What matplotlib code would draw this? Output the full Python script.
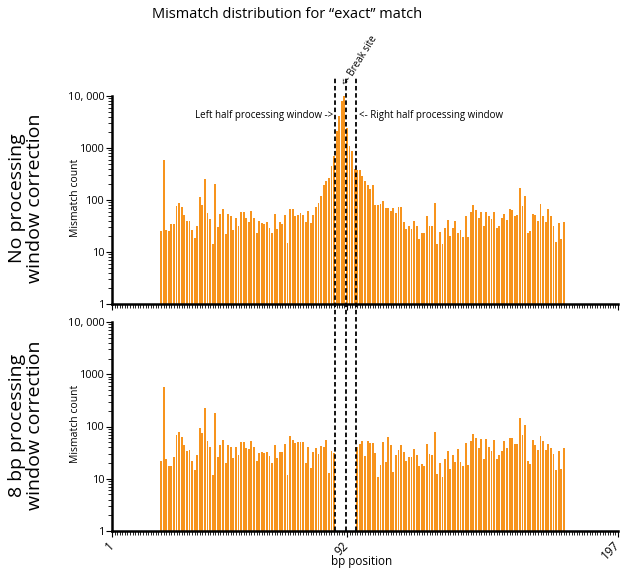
import matplotlib
matplotlib.use('Agg')
import matplotlib.pyplot as plt
from matplotlib.lines import Line2D
from matplotlib.ticker import FixedLocator, MultipleLocator, LogLocator, NullFormatter
import matplotlib.transforms as mtransforms

plt.rcParams['font.family'] = ['Open Sans', 'DejaVu Sans']

# --- data ---
# positions 20..95, no correction
top_left = [25, 575, 27, 25, 34, 34, 78, 88, 73, 51,
            40, 39, 27, 19, 31, 113, 80, 258, 57, 44,
            14, 207, 30, 53, 66, 22, 53, 49, 27, 45,
            32, 58, 58, 46, 38, 61, 45, 23, 39, 36,
            34, 38, 29, 23, 55, 28, 38, 35, 51, 15,
            68, 66, 49, 52, 57, 51, 38, 62, 36, 51,
            72, 86, 122, 198, 228, 265, 445, 710, 2140, 4150,
            8000, 9900, 2400, 1100, 860, 400]
# positions 96..176, no correction
top_right = [372, 372, 294, 237, 198, 166, 192, 80, 80, 82,
             95, 69, 71, 61, 71, 57, 72, 72, 38, 28,
             32, 28, 40, 32, 18, 23, 23, 50, 32, 32,
             88, 14, 24, 14, 29, 42, 20, 29, 39, 23,
             26, 19.5, 50, 19.5, 58, 80, 64, 45, 59, 32,
             59, 49, 44, 58, 29, 32, 45, 55, 42, 68,
             64, 50, 52, 170, 76, 122, 23.5, 25, 55, 52,
             40, 84, 49, 38, 66, 49, 32, 15.6, 36, 17.5,
             38]
# positions 20..87, 8 bp correction
bot_left = [22, 565, 24, 17.7, 17.7, 26, 69, 80, 64, 45,
            34, 35, 22, 14.6, 28, 92, 75, 228, 52, 41,
            11.7, 182, 26, 45, 56, 20, 44, 40, 25.5, 41,
            28, 51, 50, 38, 37, 53, 40, 22, 31, 33,
            30.5, 33, 27.5, 20, 45, 25, 33, 33, 46, 11.7,
            66, 56, 48, 51, 51, 51, 20, 41, 16, 32,
            38, 30, 42, 40, 54, 13, 34, 31]
# positions 96..176, 8 bp correction
bot_right = [40, 46, 53, 27.5, 53, 48, 48, 31, 10.9, 18.5,
             50, 20.5, 63, 45, 13.6, 28, 36, 45, 33, 22,
             26, 26, 37, 28, 17.7, 19, 17.7, 46, 29.5, 28,
             80, 12.6, 19.6, 10.9, 24, 34, 15.3, 28, 21, 37,
             21, 17.7, 48, 18.5, 53, 72, 59, 38, 58, 24,
             58, 41, 34, 55, 24, 29, 34, 53, 38, 59,
             59, 47, 46, 146, 70, 108, 22, 19, 55, 45,
             35, 66, 52, 36, 47, 39, 29.5, 14.6, 34, 15.7,
             38]

left_start = 20
right_start = 96
window_lines = [87.5, 91.5, 95.5]
x_ticks = [1, 92, 197]
y_ticks = [1, 10, 100, 1000, 10000]
y_ticklabels = ['1', '10', '100', '1000', '10, 000']

bar_color = '#F7941D'

fig = plt.figure(figsize=(6.24, 5.72), dpi=100)
W, H = 624, 572
ax_top = fig.add_axes([112 / W, 1 - 304 / H, 506 / W, 208 / H])
ax_bot = fig.add_axes([112 / W, 1 - 531 / H, 506 / W, 209 / H])


def style(ax, show_xlabels):
    ax.set_yscale('log')
    ax.set_xlim(1, 197)
    ax.set_ylim(1, 10000)
    for s in ['top', 'right']:
        ax.spines[s].set_visible(False)
    for s in ['left', 'bottom']:
        ax.spines[s].set_linewidth(1.8)
    ax.yaxis.set_major_locator(FixedLocator(y_ticks))
    ax.set_yticklabels(y_ticklabels)
    ax.yaxis.set_minor_locator(LogLocator(base=10, subs=range(2, 10)))
    ax.yaxis.set_minor_formatter(NullFormatter())
    ax.xaxis.set_major_locator(FixedLocator(x_ticks))
    ax.xaxis.set_minor_locator(MultipleLocator(1))
    ax.tick_params(axis='y', which='major', direction='out', length=4, width=0.8,
                   labelsize=7.8, pad=1)
    ax.tick_params(axis='x', which='major', direction='out', length=4, width=0.8,
                   labelsize=8.5, pad=5)
    ax.tick_params(axis='both', which='minor', direction='out', length=3, width=0.6)
    if show_xlabels:
        ax.set_xticklabels([str(t) for t in x_ticks], rotation=45, ha='right',
                           va='center', rotation_mode='anchor', fontsize=8.5)
    else:
        ax.set_xticklabels([])


def draw(ax, left_vals, right_vals):
    xl = list(range(left_start, left_start + len(left_vals)))
    xr = list(range(right_start, right_start + len(right_vals)))
    ax.bar(xl, left_vals, width=0.72, color=bar_color, linewidth=0)
    ax.bar(xr, right_vals, width=0.72, color=bar_color, linewidth=0)


style(ax_top, False)
style(ax_bot, True)
draw(ax_top, top_left, top_right)
draw(ax_bot, bot_left, bot_right)
ax_top.set_ylim(1, 10000)
ax_bot.set_ylim(1, 10000)

# dashed window lines through both panels
trans = mtransforms.blended_transform_factory(ax_bot.transData, fig.transFigure)
for xv in window_lines:
    fig.add_artist(Line2D([xv, xv], [1 - 531 / H, 1 - 76 / H], transform=trans,
                          color='black', lw=1.3, linestyle=(0, (2.5, 1.5))))

ax_top.text(86.8, 4300, 'Left half processing window ->', ha='right', va='center',
            fontsize=7)
ax_top.text(96.6, 4300, '<- Right half processing window', ha='left', va='center',
            fontsize=7)
fig.text(350 / W, 1 - 88 / H, '<- Break site', rotation=58, ha='left', va='bottom',
         rotation_mode='anchor', fontsize=7)

fig.text(287 / W, 1 - 14 / H, 'Mismatch distribution for \u201cexact\u201d match',
         ha='center', va='center', fontsize=10.5)

fig.text(26 / W, 1 - 198 / H, 'No processing\nwindow correction', rotation=90,
         ha='center', va='center', multialignment='center', fontsize=14,
         linespacing=1.0)
fig.text(26 / W, 1 - 425 / H, '8 bp processing\nwindow correction', rotation=90,
         ha='center', va='center', multialignment='center', fontsize=14,
         linespacing=1.0)
fig.text(76 / W, 1 - 198 / H, 'Mismatch count', rotation=90, ha='center',
         va='center', fontsize=7.5)
fig.text(76 / W, 1 - 424 / H, 'Mismatch count', rotation=90, ha='center',
         va='center', fontsize=7.5)
fig.text(362 / W, 1 - 561 / H, 'bp position', ha='center', va='center', fontsize=8.5)

fig.savefig('out.png', dpi=100)
